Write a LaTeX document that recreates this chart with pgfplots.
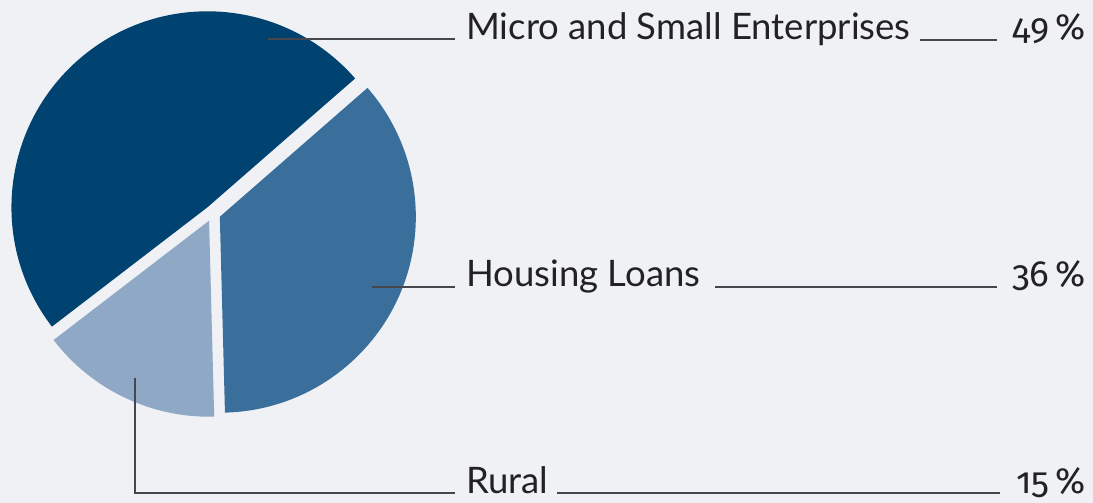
\documentclass[border=0pt]{standalone}
\usepackage{fontspec}
\setmainfont{Lato}
\newfontfamily\numfont{Fira Sans}[Numbers=OldStyle]
\usepackage{pgfplots}
\usepackage{pgfplotstable}
\pgfplotsset{compat=1.18}
\definecolor{bg}{RGB}{239,241,245}
\definecolor{cmicro}{RGB}{0,66,112}
\definecolor{chouse}{RGB}{59,111,155}
\definecolor{crural}{RGB}{142,168,198}
\definecolor{txt}{RGB}{34,34,38}
\definecolor{lead}{RGB}{70,70,76}
\pgfplotstableread{
label value
Housing 36
Micro 49
Rural 15
}\piedata
\begin{document}
\begin{tikzpicture}
\begin{axis}[width=1093pt,height=503pt,scale only axis,
  xmin=0,xmax=1093,ymin=0,ymax=503,hide axis,clip=false]
\fill[bg] (axis cs:0,0) rectangle (axis cs:1093,503);
\coordinate (bbsw) at (axis cs:0,0);
\coordinate (bbne) at (axis cs:1093,503);
\pgfplotstablegetelem{0}{value}\of\piedata \let\vH\pgfplotsretval
\pgfplotstablegetelem{1}{value}\of\piedata \let\vM\pgfplotsretval
\pgfplotstablegetelem{2}{value}\of\piedata \let\vR\pgfplotsretval
\pgfmathsetmacro\aA{271.5}
\pgfmathsetmacro\aB{\aA+3.6*\vH}
\pgfmathsetmacro\aC{\aB+3.6*\vM}
\pgfmathsetmacro\aD{\aC+3.6*\vR}
\pgfmathsetmacro\mH{(\aA+\aB)/2}
\pgfmathsetmacro\mM{(\aB+\aC)/2}
\pgfmathsetmacro\mR{(\aC+\aD)/2}
\def\rad{196pt}
\def\ex{8pt}
\fill[chouse] (axis cs:212.5,289.5) ++(\mH:\ex) -- ++(\aA:\rad) arc[start angle=\aA,end angle=\aB,radius=\rad] -- cycle;
\fill[cmicro] (axis cs:212.5,289.5) ++(\mM:\ex) -- ++(\aB:\rad) arc[start angle=\aB,end angle=\aC,radius=\rad] -- cycle;
\fill[crural] (axis cs:212.5,289.5) ++(\mR:\ex) -- ++(\aC:\rad) arc[start angle=\aC,end angle=\aD,radius=\rad] -- cycle;
% leader lines
\draw[lead,line width=1.2pt] (axis cs:268,464) -- (axis cs:455,464);
\draw[lead,line width=1.2pt] (axis cs:920,463) -- (axis cs:997,463);
\draw[lead,line width=1.2pt] (axis cs:372,216) -- (axis cs:455,216);
\draw[lead,line width=1.2pt] (axis cs:715,216) -- (axis cs:997,216);
\draw[lead,line width=1.2pt] (axis cs:135,125) -- (axis cs:135,10) -- (axis cs:455,10);
\draw[lead,line width=1.2pt] (axis cs:557,10) -- (axis cs:1000,10);
% labels
\begin{scope}[every node/.style={inner sep=0pt,text=txt,font=\fontsize{36.5}{40}\selectfont}]
\node[anchor=base west] at (axis cs:466,463) {Micro and Small Enterprises};
\node[anchor=base west] at (axis cs:466,216) {Housing Loans};
\node[anchor=base west] at (axis cs:466,9) {Rural};
\node[anchor=base east] at (axis cs:1086,463) {\numfont\vM\,\%};
\node[anchor=base east] at (axis cs:1086,216) {\numfont\vH\,\%};
\node[anchor=base east] at (axis cs:1086,9) {\numfont\vR\,\%};
\end{scope}
\end{axis}
\pgfresetboundingbox
\useasboundingbox (bbsw) rectangle (bbne);
\end{tikzpicture}
\end{document}
